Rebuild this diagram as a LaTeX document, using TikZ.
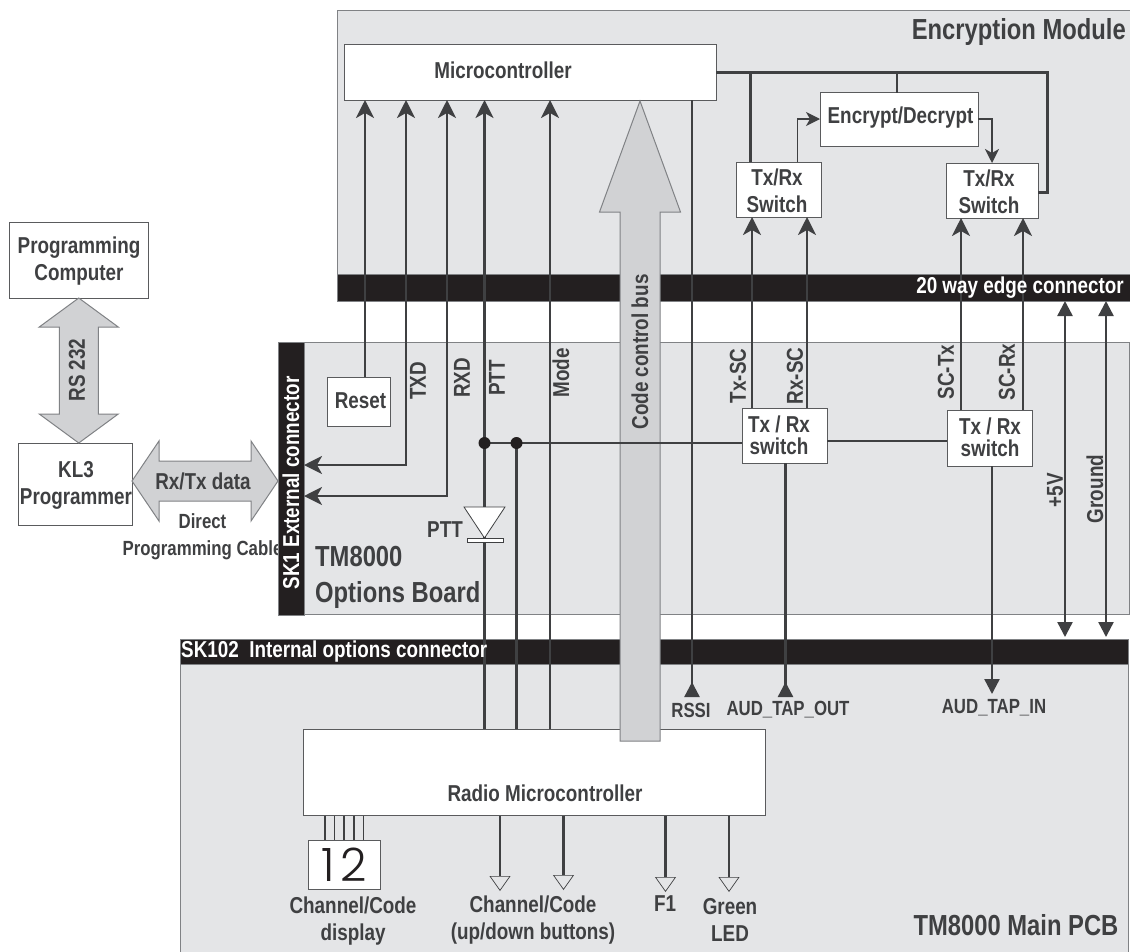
\documentclass[tikz,border=0pt]{standalone}
\usepackage{fontspec}
\setmainfont{Liberation Sans}[FakeStretch=0.82]
\newfontfamily\digitfont{Poppins Light}
\usetikzlibrary{arrows.meta,calc}
\definecolor{bgc}{HTML}{E4E5E7}
\definecolor{edgec}{HTML}{808285}
\definecolor{fatc}{HTML}{D1D2D4}
\definecolor{inkc}{HTML}{3F4042}
\definecolor{barc}{HTML}{231F20}
\tikzset{
  panel/.style={draw=edgec,fill=bgc,line width=1pt},
  barbox/.style={draw=edgec,fill=barc,line width=1pt},
  wbox/.style={draw=edgec!70!black,fill=white,line width=1pt},
  txt/.style={text=inkc,font=\bfseries\fontsize{23}{27}\selectfont,inner sep=0pt,align=center},
  small/.style={txt,font=\bfseries\fontsize{20.5}{27}\selectfont},
  big/.style={txt,font=\bfseries\fontsize{29}{36}\selectfont},
  wtxt/.style={txt,text=white},
  wire/.style={draw=inkc,line width=2.4pt},
  hwire/.style={draw=inkc,line width=3pt},
  twire/.style={draw=inkc,line width=1.3pt},
  fat/.style={draw=edgec,fill=fatc,line width=1pt,line join=miter},
  barb/.tip={Stealth[length=18pt,width=18pt,inset=5pt]},
  sbarb/.tip={Stealth[length=14pt,width=14pt,inset=4pt]},
  solidt/.tip={Triangle[length=15pt,width=15pt]},
  solidr/.tip={Triangle[reversed,length=15pt,width=15pt]},
  opent/.tip={Triangle[open,length=15pt,width=21pt,line width=.7pt]},
}
\newcommand{\pbox}[6]{%
  \pgfmathsetmacro\myw{#5-(#3)}\pgfmathsetmacro\myh{#6-(#4)}%
  \pgfmathsetmacro\mycx{(#3+#5)/2}\pgfmathsetmacro\mycy{(#4+#6)/2}%
  \node[#1,minimum width=\myw pt,minimum height=\myh pt,inner sep=0pt,outer sep=0pt] (#2) at (\mycx,\mycy) {};}
% double fat arrow from A to B: head length, half head width, half shaft width
\newcommand{\fatdouble}[5]{%
  \draw[fat] (#1)
   -- ($(#1)!#3pt!(#2)!#4pt!90:(#2)$) -- ($(#1)!#3pt!(#2)!#5pt!90:(#2)$)
   -- ($(#2)!#3pt!(#1)!#5pt!-90:(#1)$) -- ($(#2)!#3pt!(#1)!#4pt!-90:(#1)$)
   -- (#2)
   -- ($(#2)!#3pt!(#1)!#4pt!90:(#1)$) -- ($(#2)!#3pt!(#1)!#5pt!90:(#1)$)
   -- ($(#1)!#3pt!(#2)!#5pt!-90:(#2)$) -- ($(#1)!#3pt!(#2)!#4pt!-90:(#2)$)
   -- cycle;}
\begin{document}
\begin{tikzpicture}[x=1pt,y=-1pt]
\useasboundingbox (0,0) rectangle (1130,951);
\fill[white] (0,0) rectangle (1130,951);
% panels
\pbox{panel}{encpanel}{337}{10}{1131}{301}
\pbox{panel}{optpanel}{303}{342}{1129}{614}
\pbox{panel}{mainpanel}{180}{639}{1128}{952}
% text under the connector bar
\node[small] (direct) at (202.5,537) {Direct\\Programming Cable};
% bars
\pbox{barbox}{edgebar}{337}{274}{1131}{301}
\pbox{barbox}{sk1}{278}{342}{304}{615}
\pbox{barbox}{skbar}{180}{639}{1128}{664}
% boxes
\pbox{wbox}{prog}{9.5}{222}{148}{298}
\pbox{wbox}{kl3}{18}{443}{132}{525}
\pbox{wbox}{micro}{344}{44}{716}{100}
\pbox{wbox}{encdec}{820}{92.5}{978}{146.5}
\pbox{wbox}{swa}{736}{162}{821}{217}
\pbox{wbox}{swb}{946}{163}{1038}{218}
\pbox{wbox}{reset}{327.5}{377}{390}{426}
\pbox{wbox}{lowa}{742}{408}{827}{463}
\pbox{wbox}{lowb}{947}{410}{1032}{466}
\pbox{wbox}{radio}{303}{729}{765}{815.5}
\pbox{wbox}{disp}{308}{840}{380}{889}
% fat arrows
\coordinate (rsA) at (prog.south);
\coordinate (rsB) at (prog.south |- kl3.north);
\fatdouble{rsA}{rsB}{29}{39.5}{19.5}
\coordinate (dataA) at (132,481);
\coordinate (dataB) at (278,481);
\fatdouble{dataA}{dataB}{27}{40}{20}
\coordinate (busT) at (640,101);
\coordinate (busB) at (640,741);
\draw[fat] (busT) -- (680.5,212) -- (660,212) -- (660,741) -- (620,741) -- (620,212) -- (599.5,212) -- cycle;
% column coordinates
\coordinate (xres) at (365,0);
\coordinate (txdb) at (406,465);
\coordinate (rxdb) at (447,496);
\coordinate (xptt) at (484.5,0);
\coordinate (xmode) at (550,0);
\coordinate (xrssi) at (692,697);
\coordinate (xa1) at (752,0);
\coordinate (xa2) at (807,0);
\coordinate (xb1) at (961,0);
\coordinate (xb2) at (1023,0);
\coordinate (xv) at (1065,0);
\coordinate (xg) at (1106,0);
\coordinate (audo) at (785.5,697);
\coordinate (audi) at (992,694);
% microcontroller inputs
\draw[wire,-barb] (reset.north -| xres) -- (micro.south -| xres);
\draw[wire,barb-barb] (txdb -| sk1.east) -- (txdb) -- (micro.south -| txdb);
\draw[wire,barb-barb] (rxdb -| sk1.east) -- (rxdb) -- (micro.south -| rxdb);
\draw[wire,-barb] (radio.north -| xptt) -- (micro.south -| xptt);
\draw[wire,-barb] (radio.north -| xmode) -- (micro.south -| xmode);
\draw[wire,-solidr] (micro.south -| xrssi) -- (xrssi);
% PTT control
\coordinate (jptt) at (484.5,443);
\coordinate (jb) at (516.5,443);
\draw[wire] (jb) -- (jb |- radio.north);
\draw[wire] (jptt) -- (lowa.west |- jptt);
\draw[wire] (lowa.east |- 0,441) -- (lowb.west |- 0,441);
\fill[barc] (jptt) circle (6) (jb) circle (6);
% encryption module
\coordinate (rb) at (1047,192);
\coordinate (ja) at (750.5,72);
\coordinate (jc) at (897,72);
\draw[hwire] (micro.east |- ja) -- (ja -| rb) -- (rb) -- (rb -| swb.east);
\draw[hwire] (ja) -- (ja |- swa.north);
\draw[twire] (jc) -- (jc |- encdec.north);
\coordinate (thin) at (797.5,119);
\draw[twire,-sbarb] (thin |- swa.north) -- (thin) -- (thin -| encdec.west);
\coordinate (dn) at (992,119);
\draw[wire,-sbarb] (dn -| encdec.east) -- (dn) -- (dn |- swb.north);
% switch links
\draw[wire,-barb] (lowa.north -| xa1) -- (swa.south -| xa1);
\draw[wire,-barb] (lowa.north -| xa2) -- (swa.south -| xa2);
\draw[wire,-barb] (lowb.north -| xb1) -- (swb.south -| xb1);
\draw[wire,-barb] (lowb.north -| xb2) -- (swb.south -| xb2);
\draw[wire,solidt-solidt,shorten >=2pt] (edgebar.south -| xv) -- (skbar.north -| xv);
\draw[wire,solidt-solidt,shorten >=2pt] (edgebar.south -| xg) -- (skbar.north -| xg);
\draw[wire,-solidr] (lowa.south -| audo) -- (audo);
\draw[wire,-solidt] (lowb.south -| audi) -- (audi);
% diode
\coordinate (dtop) at (484.5,507);
\draw[draw=inkc,fill=white,line width=.8pt] (464,507) -- (505,507) -- (484.5,538) -- cycle;
\pbox{draw=inkc,fill=white,line width=.8pt}{dbar}{467.5}{538}{503.5}{542}
% display lines
\foreach \xx [count=\ii] in {325,334.5,344,354,363.5}
  \draw[twire] (\xx,0 |- radio.south) -- (\xx,0 |- disp.north);
% radio outputs
\coordinate (o1) at (500,891);
\coordinate (o2) at (563.5,890);
\coordinate (o3) at (665.5,892);
\coordinate (o4) at (729,892);
\draw[wire,-opent] (radio.south -| o1) -- (o1);
\draw[wire,-opent] (radio.south -| o2) -- (o2);
\draw[wire,-opent] (radio.south -| o3) -- (o3);
\draw[wire,-opent] (radio.south -| o4) -- (o4);
% texts
\node[txt] (tprog) at (79,261) {Programming\\Computer};
\node[txt,rotate=90] (trs) at (77,370) {RS 232};
\node[txt] (tkl) at (76,485) {KL3\\Programmer};
\node[txt] (tdata) at (203,481) {Rx/Tx data};
\node[wtxt,rotate=90] (tsk1) at (291,483) {SK1 External connector};
\node[txt] (tmicro) at (503,70) {Microcontroller};
\node[big,anchor=east] (tenc) at (1126,32) {Encryption Module};
\node[txt] (tencd) at (900.5,118) {Encrypt/Decrypt};
\node[txt] (tswa) at (777,191) {Tx/Rx\\Switch};
\node[txt] (tswb) at (989,192) {Tx/Rx\\Switch};
\node[wtxt,anchor=east] (tedge) at (1124,288) {20 way edge connector};
\node[txt] (treset) at (360.5,401) {Reset};
\node[txt,rotate=90] (ttxd) at (418,381) {TXD};
\node[txt,rotate=90] (trxd) at (462,378) {RXD};
\node[txt,rotate=90] (tptt) at (497,378) {PTT};
\node[txt,rotate=90] (tmode) at (561,373) {Mode};
\node[txt,rotate=90] (tbus) at (640,352) {Code control bus};
\node[txt,rotate=90] (ttxsc) at (738,376) {Tx-SC};
\node[txt,rotate=90] (trxsc) at (795,376) {Rx-SC};
\node[txt,rotate=90] (tsctx) at (946,372) {SC-Tx};
\node[txt,rotate=90] (tscrx) at (1007,372) {SC-Rx};
\node[txt,rotate=90] (tfive) at (1055,490) {+5V};
\node[txt,rotate=90] (tgnd) at (1095,489) {Ground};
\node[txt] (tlowa) at (779,435) {Tx / Rx\\[-5pt]switch};
\node[txt] (tlowb) at (990,437) {Tx / Rx\\[-5pt]switch};
\node[txt,anchor=east] (tpttd) at (463,530) {PTT};
\node[big,anchor=west,align=left] (topt) at (315,577) {TM8000\\Options Board};
\node[wtxt,anchor=west] (tsk) at (181,651.5) {SK102\ \ Internal options connector};
\node[small] (trssi) at (691,710) {RSSI};
\node[small] (tout) at (788,710) {AUD\_TAP\_OUT};
\node[small] (tin) at (994,708) {AUD\_TAP\_IN};
\node[txt] (tradio) at (545,793) {Radio Microcontroller};
\node[text=barc,font=\digitfont\fontsize{46}{46}\selectfont,inner sep=0pt] (tdisp) at (344,865) {1\hspace{6pt}2};
\node[txt] (tc1) at (353,921) {Channel/Code\\display};
\node[txt] (tc2) at (533,920) {Channel/Code\\(up/down buttons)};
\node[txt] (tf1) at (665,904) {F1};
\node[txt] (tled) at (730,920) {Green\\LED};
\node[big] (tmain) at (1016,925) {TM8000 Main PCB};
\end{tikzpicture}
\end{document}
